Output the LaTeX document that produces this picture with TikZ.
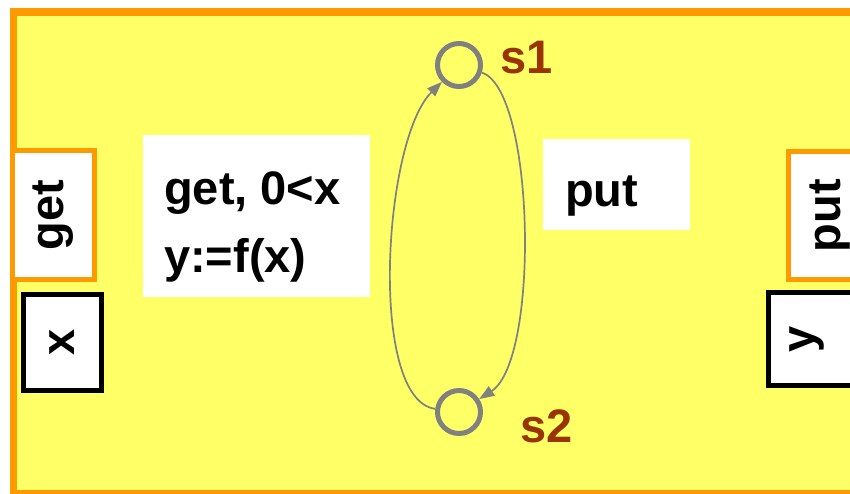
\documentclass[tikz,border=0pt]{standalone}
\usepackage{fontspec}
\setmainfont{Liberation Sans}
\usetikzlibrary{arrows.meta}
\definecolor{slideyellow}{HTML}{FFFF66}
\definecolor{slideorange}{HTML}{FF9900}
\definecolor{statered}{HTML}{993300}
\definecolor{stategray}{HTML}{808080}

\begin{document}
\begin{tikzpicture}[x=1pt, y=-1pt,
  every node/.style={font=\fontsize{47}{68}\selectfont\bfseries},
  portbox/.style={draw=slideorange, line width=5pt, fill=white, inner sep=0pt},
  varbox/.style={draw=black, line width=5pt, fill=white, inner sep=0pt},
  state/.style={circle, draw=stategray, line width=5pt, minimum size=43pt, inner sep=0pt},
  statelabel/.style={text=statered, anchor=base west, inner sep=0pt},
  trans/.style={draw=stategray, line width=1.7pt, -{Triangle[length=15pt,width=11pt]}}]

  \clip (0,0) rectangle (850,493);
  \fill[white] (0,0) rectangle (850,493);

  % process body
  \draw[draw=slideorange, fill=slideyellow, line width=7.5pt] (13.5,12) rectangle (870,494);

  % ports and variables
  \node[portbox, minimum width=82pt, minimum height=129pt] (getport) at (53.5,215) {\rotatebox{90}{get}};
  \node[varbox, minimum width=78pt, minimum height=96pt] (xvar) at (62.5,342.5) {\rotatebox{90}{x}};
  \node[portbox, minimum width=84pt, minimum height=128pt] (putport) at (830,215.5) {\rotatebox{90}{put}};
  \node[varbox, minimum width=100pt, minimum height=93pt] (yvar) at (818.5,339) {};
  \node (ytext) at (807,339) {\rotatebox{90}{y}};

  % transition labels
  \fill[white] (143,135) rectangle (370,297);
  \node[anchor=base west, inner sep=0pt] (guard) at (164,204) {get, 0<x};
  \node[anchor=base west, inner sep=0pt] (action) at (164,272) {y:=f(x)};
  \fill[white] (543,139) rectangle (690,230);
  \node[anchor=base west, inner sep=0pt] (putlbl) at (565,206) {put};

  % states
  \node[state] (s1) at (459,65) {};
  \node[state] (s2) at (459,412) {};
  \node[statelabel] (s1lbl) at (500,73) {s1};
  \node[statelabel] (s2lbl) at (520,442) {s2};

  \draw[trans] (s2) .. controls (368,400) and (383,140) .. (s1);
  \draw[trans] (s1) .. controls (535,90) and (540,360) .. (s2);
\end{tikzpicture}
\end{document}
